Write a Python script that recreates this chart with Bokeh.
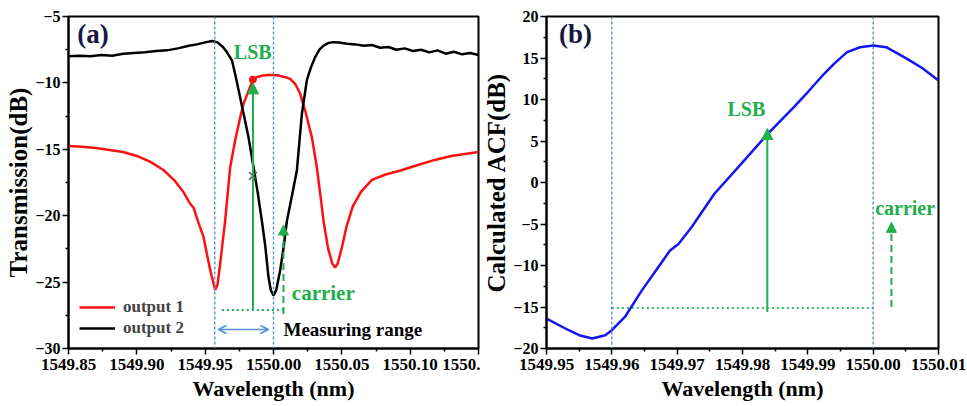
from bokeh.plotting import figure
from bokeh.layouts import row
from bokeh.models import (Range1d, FixedTicker, PrintfTickFormatter, Span, Arrow,
                          NormalHead, OpenHead, Label, Legend, LegendItem)
from bokeh.embed import file_html
from bokeh.resources import INLINE

# ---------------- data: panel (a) ----------------
out2_wl = [1549.850, 1549.858, 1549.866, 1549.874, 1549.882, 1549.890, 1549.898, 1549.906,
           1549.914, 1549.922, 1549.930, 1549.938, 1549.944, 1549.950, 1549.955, 1549.959,
           1549.963, 1549.966, 1549.9696, 1549.9725, 1549.9756, 1549.9787, 1549.9817, 1549.9854,
           1549.9885, 1549.9915, 1549.994, 1549.9963, 1549.998, 1550.000, 1550.002, 1550.0049,
           1550.0075, 1550.0098, 1550.0135, 1550.0171, 1550.0208, 1550.0244, 1550.0275, 1550.0305,
           1550.0336, 1550.0366, 1550.040, 1550.0439, 1550.048, 1550.054, 1550.060, 1550.066,
           1550.072, 1550.078, 1550.084, 1550.090, 1550.096, 1550.102, 1550.108, 1550.114,
           1550.120, 1550.126, 1550.132, 1550.138, 1550.144, 1550.150]
out2_db = [-8.0, -7.95, -8.0, -7.9, -7.95, -7.8, -7.75, -7.7,
           -7.6, -7.55, -7.4, -7.2, -7.1, -6.95, -6.85, -6.95,
           -7.3, -7.7, -8.3, -9.6, -11.1, -12.6, -14.1, -16.35,
           -18.3, -20.4, -22.3, -24.6, -25.6, -26.0, -25.6, -24.1,
           -22.3, -20.4, -18.5, -16.6, -12.3, -9.8, -8.8, -8.06,
           -7.5, -7.2, -7.0, -6.93, -6.95, -7.05, -7.1, -7.2,
           -7.15, -7.35, -7.3, -7.5, -7.4, -7.6, -7.5, -7.7,
           -7.55, -7.8, -7.65, -7.85, -7.75, -7.9]

out1_wl = [1549.850, 1549.860, 1549.870, 1549.880, 1549.890, 1549.900, 1549.910, 1549.920,
           1549.928, 1549.934, 1549.939, 1549.9415, 1549.945, 1549.9488, 1549.9515, 1549.9537,
           1549.9573, 1549.959, 1549.961, 1549.9646, 1549.9683, 1549.972, 1549.9756, 1549.978,
           1549.9817, 1549.9849, 1549.988, 1549.992, 1549.996, 1550.000, 1550.004, 1550.008,
           1550.0122, 1550.016, 1550.0195, 1550.0232, 1550.0281, 1550.0317, 1550.0345, 1550.0366,
           1550.040, 1550.0430, 1550.0451, 1550.047, 1550.050, 1550.0535, 1550.058, 1550.064,
           1550.072, 1550.082, 1550.093, 1550.105, 1550.118, 1550.130, 1550.140, 1550.150]
out1_db = [-14.75, -14.8, -14.9, -15.05, -15.2, -15.5, -15.95, -16.6,
           -17.4, -18.2, -19.1, -19.4, -20.5, -21.6, -23.0, -24.1,
           -25.6, -25.2, -23.6, -20.4, -16.35, -14.3, -12.6, -11.6,
           -10.6, -9.8, -9.55, -9.45, -9.4, -9.4, -9.45, -9.55,
           -9.7, -10.1, -10.8, -12.1, -14.1, -16.35, -18.6, -20.4,
           -22.5, -23.6, -23.9, -23.6, -22.4, -20.8, -19.3, -18.2,
           -17.3, -16.9, -16.6, -16.2, -15.8, -15.5, -15.35, -15.2]

a_xticks = [1549.85, 1549.90, 1549.95, 1550.00, 1550.05, 1550.10, 1550.15]
a_xminor = [1549.875, 1549.925, 1549.975, 1550.025, 1550.075, 1550.125]
a_yticks = [-30, -25, -20, -15, -10, -5]
a_yminor = [-27.5, -22.5, -17.5, -12.5, -7.5]

# ---------------- data: panel (b) ----------------
acf_wl = [1549.950, 1549.9534, 1549.955, 1549.957, 1549.959, 1549.960, 1549.962, 1549.9646,
          1549.9671, 1549.9689, 1549.9702, 1549.9722, 1549.9757, 1549.9798, 1549.9839, 1549.9879,
          1549.990, 1549.9925, 1549.994, 1549.996, 1549.998, 1550.000, 1550.002, 1550.0052,
          1550.0075, 1550.010]
acf_db = [-16.4, -17.8, -18.4, -18.8, -18.4, -17.8, -16.2, -13.0,
          -10.2, -8.2, -7.4, -5.4, -1.36, 2.25, 5.9, 9.1,
          10.9, 13.1, 14.3, 15.7, 16.3, 16.5, 16.3, 14.9,
          13.8, 12.3]

b_xticks = [1549.95, 1549.96, 1549.97, 1549.98, 1549.99, 1550.00, 1550.01]
b_xminor = [1549.955, 1549.965, 1549.975, 1549.985, 1549.995, 1550.005]
b_yticks = [-20, -15, -10, -5, 0, 5, 10, 15, 20]
b_yminor = [-17.5, -12.5, -7.5, -2.5, 2.5, 7.5, 12.5, 17.5]

FONT = "Liberation Serif"
GREEN = "#1fae4b"
LBLUE = "#4f90d6"


def style(p, xt, xm, yt, ym, xfmt):
    p.xaxis.ticker = FixedTicker(ticks=xt, minor_ticks=xm)
    p.yaxis.ticker = FixedTicker(ticks=yt, minor_ticks=ym)
    p.xaxis.formatter = PrintfTickFormatter(format=xfmt)
    p.xgrid.visible = False
    p.ygrid.visible = False
    p.outline_line_color = "black"
    p.outline_line_width = 2
    p.outline_line_alpha = 1
    for ax in (p.xaxis, p.yaxis):
        ax.axis_line_width = 2
        ax.axis_line_color = "black"
        ax.major_tick_line_width = 1.5
        ax.minor_tick_line_width = 1.5
        ax.major_tick_line_color = "black"
        ax.minor_tick_line_color = "black"
        ax.major_tick_in = 0
        ax.minor_tick_in = 0
        ax.major_tick_out = 6
        ax.minor_tick_out = 3
        ax.major_label_text_font = FONT
        ax.major_label_text_font_style = "bold"
        ax.major_label_text_color = "black"
        ax.axis_label_text_font = FONT
        ax.axis_label_text_font_style = "bold"
        ax.axis_label_text_color = "black"
    p.xaxis.major_label_text_font_size = "17px"
    p.yaxis.major_label_text_font_size = "16px"
    p.xaxis.axis_label_text_font_size = "22px"
    p.yaxis.axis_label_text_font_size = "25px"
    p.xaxis.major_label_standoff = 4
    p.yaxis.major_label_standoff = 2
    p.xaxis.axis_label_standoff = 3
    p.yaxis.axis_label_standoff = 0


def label(p, x, y, text, color, size, align="left", baseline="middle"):
    p.add_layout(Label(x=x, y=y, text=text, text_color=color, text_font=FONT,
                       text_font_style="bold", text_font_size=size,
                       text_align=align, text_baseline=baseline))


# ---------------- panel (a) ----------------
pa = figure(width=480, height=406, output_backend="svg", toolbar_location=None,
            x_range=Range1d(1549.85, 1550.15), y_range=Range1d(-30, -5),
            min_border_left=68, min_border_right=2, min_border_top=16, min_border_bottom=58)
style(pa, a_xticks, a_xminor, a_yticks, a_yminor, "%.2f")
pa.xaxis.major_label_overrides = {1550.15: "1550."}
pa.xaxis.axis_label = "Wavelength (nm)"
pa.yaxis.axis_label = "Transmission(dB)"

for xv in (1549.957, 1550.000):
    pa.add_layout(Span(location=xv, dimension="height", line_color=LBLUE,
                       line_dash="3 2", line_width=1.4))

r1 = pa.line(out1_wl, out1_db, line_color="#ff1010", line_width=2.5)
r2 = pa.line(out2_wl, out2_db, line_color="black", line_width=2.5)

# annotations (a)
pa.segment(x0=[1549.9622], y0=[-27.1], x1=[1550.0073], y1=[-27.1],
           line_color=GREEN, line_width=1.8, line_dash="2 3")
pa.add_layout(Arrow(end=NormalHead(size=11, fill_color=GREEN, line_color=GREEN),
                    x_start=1549.985, y_start=-27.1, x_end=1549.985, y_end=-10.0,
                    line_color=GREEN, line_width=2))
pa.add_layout(Arrow(end=NormalHead(size=10, fill_color=GREEN, line_color=GREEN),
                    x_start=1550.0073, y_start=-27.4, x_end=1550.0073, y_end=-20.7,
                    line_color=GREEN, line_width=2, line_dash="7 4"))
pa.scatter([1549.9849], [-9.75], size=7, color="#ff1010")
pa.scatter([1549.985], [-17.0], marker="x", size=11, line_color="#555555", line_width=1.5)
pa.add_layout(Arrow(start=OpenHead(size=8, line_color=LBLUE, line_width=1.5),
                    end=OpenHead(size=8, line_color=LBLUE, line_width=1.5),
                    x_start=1549.9597, y_start=-28.57, x_end=1549.9963, y_end=-28.57,
                    line_color=LBLUE, line_width=1.5))
label(pa, 1549.9848, -7.7, "LSB", GREEN, "20px", align="center")
label(pa, 1550.0134, -25.8, "carrier", GREEN, "21px")
label(pa, 1550.0073, -28.57, "Measuring range", "black", "19px")
label(pa, 1549.8564, -6.3, "(a)", "#161640", "27px")

legend = Legend(items=[LegendItem(label="output 1", renderers=[r1]),
                       LegendItem(label="output 2", renderers=[r2])],
                location=(11, 10), border_line_color=None, background_fill_alpha=0,
                glyph_width=36, glyph_height=20, label_height=20, spacing=1,
                padding=0, margin=0, label_standoff=8,
                label_text_font=FONT, label_text_font_style="bold",
                label_text_font_size="17px")
pa.add_layout(legend)

# ---------------- panel (b) ----------------
pb = figure(width=487, height=406, output_backend="svg", toolbar_location=None,
            x_range=Range1d(1549.95, 1550.01), y_range=Range1d(-20, 20),
            min_border_left=64, min_border_right=29, min_border_top=16, min_border_bottom=58)
style(pb, b_xticks, b_xminor, b_yticks, b_yminor, "%.2f")
pb.xaxis.axis_label = "Wavelength (nm)"
pb.yaxis.axis_label = "Calculated ACF(dB)"

for xv in (1549.96, 1550.00):
    pb.add_layout(Span(location=xv, dimension="height", line_color=LBLUE,
                       line_dash="3 2", line_width=1.4))

pb.line(acf_wl, acf_db, line_color="#1515f0", line_width=2.5)

pb.segment(x0=[1549.96], y0=[-15.1], x1=[1550.0], y1=[-15.1],
           line_color=GREEN, line_width=1.8, line_dash="2 3")
pb.add_layout(Arrow(end=NormalHead(size=11, fill_color=GREEN, line_color=GREEN),
                    x_start=1549.9838, y_start=-15.6, x_end=1549.9838, y_end=6.5,
                    line_color=GREEN, line_width=2))
pb.add_layout(Arrow(end=NormalHead(size=10, fill_color=GREEN, line_color=GREEN),
                    x_start=1550.0028, y_start=-15.0, x_end=1550.0028, y_end=-4.8,
                    line_color=GREEN, line_width=2, line_dash="7 4"))
label(pb, 1549.9806, 8.9, "LSB", GREEN, "20px", align="center")
label(pb, 1550.0003, -3.1, "carrier", GREEN, "20px")
label(pb, 1549.9519, 17.95, "(b)", "#161640", "27px")

layout = row(pa, pb)
open("out.html", "w").write(file_html(layout, INLINE))
